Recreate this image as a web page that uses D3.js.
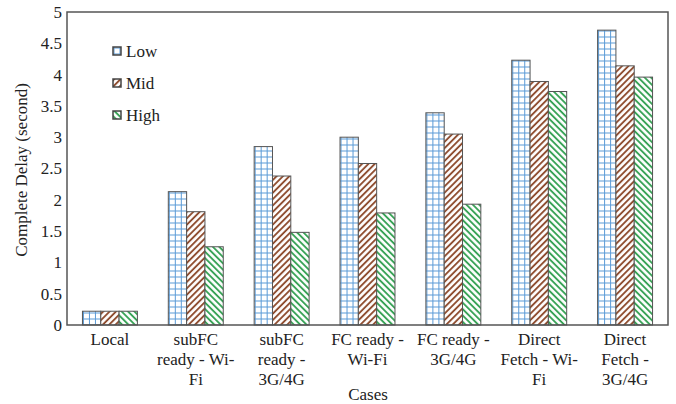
<!DOCTYPE html>
<html>
<head>
<meta charset="utf-8">
<script src="https://cdn.jsdelivr.net/npm/d3@7"></script>
<style>
  body { margin: 0; background: #fff; }
</style>
</head>
<body>
<svg id="canvas" width="676" height="404">
  <text x="368" y="400" text-anchor="middle" style="font-family:'Liberation Serif';font-size:17px" fill="#222">Cases</text>
  <text transform="translate(27,170) rotate(-90)" text-anchor="middle" style="font-family:'Liberation Serif';font-size:17px" fill="#222">Complete Delay (second)</text>
</svg>
<script>
// data
var cases = ['Local', 'subFC ready - Wi-Fi', 'subFC ready - 3G/4G', 'FC ready - Wi-Fi',
             'FC ready - 3G/4G', 'Direct Fetch - Wi-Fi', 'Direct Fetch - 3G/4G'];
var caseLines = [['Local'], ['subFC', 'ready - Wi-', 'Fi'], ['subFC', 'ready -', '3G/4G'],
                 ['FC ready -', 'Wi-Fi'], ['FC ready -', '3G/4G'], ['Direct', 'Fetch - Wi-', 'Fi'],
                 ['Direct', 'Fetch -', '3G/4G']];
var series = ['Low', 'Mid', 'High'];
var low  = [0.22, 2.13, 2.85, 3.00, 3.39, 4.23, 4.71];
var mid  = [0.22, 1.81, 2.38, 2.58, 3.05, 3.89, 4.14];
var high = [0.22, 1.25, 1.48, 1.79, 1.93, 3.73, 3.96];
var yTicks = [0, 0.5, 1, 1.5, 2, 2.5, 3, 3.5, 4, 4.5, 5];

var values = { Low: low, Mid: mid, High: high };
var svg = d3.select('#canvas');
var fontFam = 'Liberation Serif';

// ************************************************************ //
// Patterns

var defs = svg.append('defs');
var pLow = defs.append('pattern').attr('id', 'pat_Low').attr('patternUnits', 'userSpaceOnUse')
  .attr('width', 6).attr('height', 6).attr('x', 0.5).attr('y', 0.5);
pLow.append('rect').attr('width', 6).attr('height', 6).attr('fill', '#fff');
pLow.append('path').attr('d', 'M0,0.5H6M0.5,0V6').attr('stroke', '#5a9ad6').attr('stroke-width', 1);

function diag(id, color, angle){
  var p = defs.append('pattern').attr('id', id).attr('patternUnits', 'userSpaceOnUse')
    .attr('width', 4.5).attr('height', 4.5).attr('patternTransform', 'rotate(' + angle + ')');
  p.append('rect').attr('width', 4.5).attr('height', 4.5).attr('fill', '#fff');
  p.append('line').attr('x1', 1).attr('x2', 1).attr('y1', 0).attr('y2', 4.5)
    .attr('stroke', color).attr('stroke-width', 1.8);
}
diag('pat_Mid', '#8a4526', 45);
diag('pat_High', '#2e9e4e', -45);

// ************************************************************ //
// Scales

var plotLeft = 67, plotRight = 668, plotTop = 12, plotBottom = 325;
var x = d3.scaleBand().domain(cases).range([plotLeft, plotRight]).paddingInner(0.36).paddingOuter(0.18);
var xs = d3.scaleBand().domain(series).range([0, x.bandwidth()]);
var y = d3.scaleLinear().domain([0, 5]).range([plotBottom, plotTop]);

// bars
var groups = svg.append('g').selectAll('g').data(cases).join('g')
  .attr('transform', function(d){ return 'translate(' + x(d) + ',0)'; });
groups.selectAll('rect').data(function(d, i){ return series.map(function(s){ return { s: s, v: values[s][i] }; }); })
  .join('rect')
  .attr('x', function(d){ return xs(d.s); })
  .attr('y', function(d){ return y(d.v); })
  .attr('width', xs.bandwidth())
  .attr('height', function(d){ return y(0) - y(d.v); })
  .attr('fill', function(d){ return 'url(#pat_' + d.s + ')'; })
  .attr('stroke', '#555').attr('stroke-width', 1);

// frame
svg.append('rect').attr('x', plotLeft).attr('y', plotTop).attr('width', plotRight - plotLeft).attr('height', plotBottom - plotTop)
  .attr('fill', 'none').attr('stroke', '#555').attr('stroke-width', 1.5);

// y axis
var yAxis = svg.append('g').attr('transform', 'translate(' + plotLeft + ',0)')
  .call(d3.axisLeft(y).tickValues(yTicks).tickSize(0).tickPadding(5).tickFormat(d3.format('')));
yAxis.attr('font-family', fontFam).attr('font-size', 17);
yAxis.select('.domain').remove();
yAxis.selectAll('text').attr('font-family', fontFam).attr('font-size', 17).attr('fill', '#222');

// x axis, multi-line labels
var xAxis = svg.append('g').attr('transform', 'translate(0,' + plotBottom + ')')
  .call(d3.axisBottom(x).tickSize(0).tickFormat(''));
xAxis.attr('font-family', fontFam).attr('font-size', 17);
xAxis.select('.domain').remove();
xAxis.selectAll('.tick').each(function(d, i){
  var t = d3.select(this).select('text').attr('y', 0).attr('dy', null)
    .attr('font-family', fontFam).attr('font-size', 17).attr('fill', '#222');
  caseLines[i].forEach(function(line, j){
    t.append('tspan').attr('x', 0).attr('y', 20 + j * 20).text(line);
  });
});

// legend
var legend = svg.append('g').selectAll('g').data(series).join('g')
  .attr('transform', function(d, i){ return 'translate(113,' + (47 + i * 32) + ')'; });
legend.append('rect').attr('width', 8).attr('height', 8)
  .attr('fill', function(d){ return 'url(#pat_' + d + ')'; })
  .attr('stroke', '#444').attr('stroke-width', 1.5);
legend.append('text').attr('x', 13).attr('y', 10)
  .attr('font-family', fontFam).attr('font-size', 17).attr('fill', '#222').text(function(d){ return d; });
</script>
</body>
</html>
